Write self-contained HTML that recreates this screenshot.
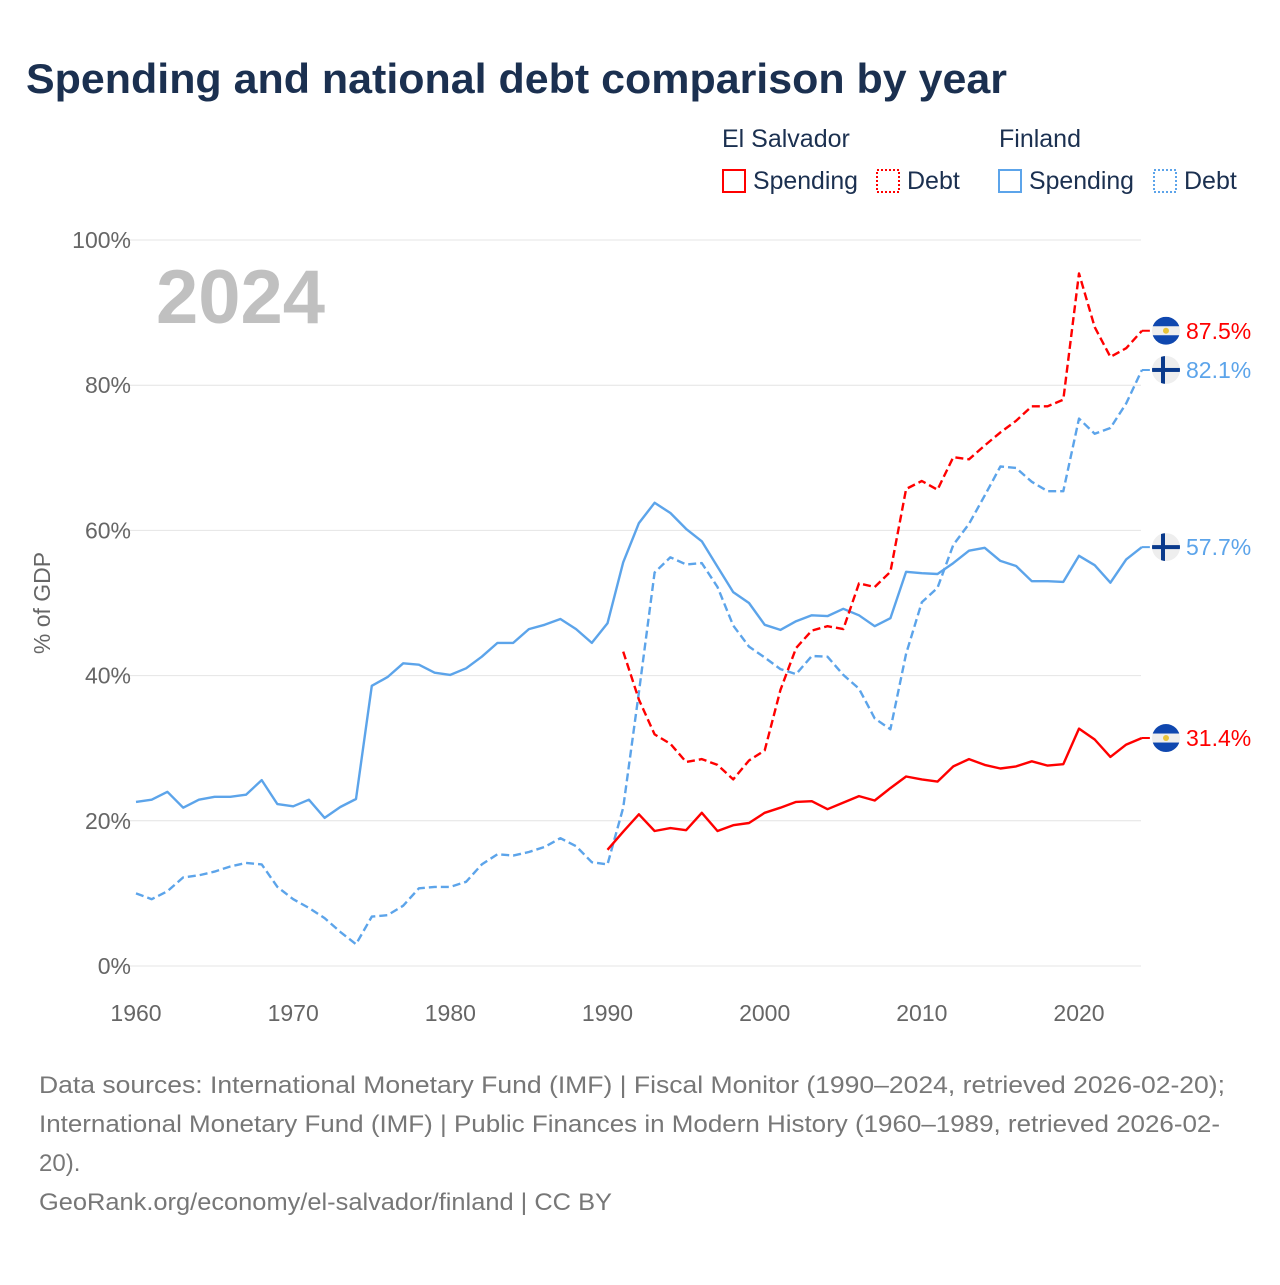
<!DOCTYPE html>
<html><head><meta charset="utf-8"><style>
body{margin:0;width:1280px;height:1280px;background:#fff;font-family:"Liberation Sans",sans-serif;overflow:hidden}
</style></head><body>
<svg id="c" width="1280" height="1280" xmlns="http://www.w3.org/2000/svg">
<text x="26" y="93" font-size="42" font-weight="bold" fill="#1b3050" textLength="981" lengthAdjust="spacingAndGlyphs">Spending and national debt comparison by year</text>
<g font-size="25" fill="#1b3050">
<text x="722" y="147">El Salvador</text>
<text x="999" y="147">Finland</text>
<g><rect x="723" y="170" width="22" height="22" fill="none" stroke="#ff0000" stroke-width="2"/><text x="753" y="189" textLength="105" lengthAdjust="spacingAndGlyphs">Spending</text></g>
<g><rect x="877" y="170" width="22" height="22" fill="none" stroke="#ff0000" stroke-width="2" stroke-dasharray="2,2"/><text x="907" y="189">Debt</text></g>
<g><rect x="999" y="170" width="22" height="22" fill="none" stroke="#5ca4ea" stroke-width="2"/><text x="1029" y="189" textLength="105" lengthAdjust="spacingAndGlyphs">Spending</text></g>
<g><rect x="1154" y="170" width="22" height="22" fill="none" stroke="#5ca4ea" stroke-width="2" stroke-dasharray="2,2"/><text x="1184" y="189">Debt</text></g>
</g>
<text x="156" y="323" font-size="76" font-weight="bold" fill="#c0c0c0">2024</text>
<text transform="translate(50,603) rotate(-90)" text-anchor="middle" font-size="23" fill="#666">% of GDP</text>
<g id="plot"></g>
<g font-size="24" fill="#777">
<text x="39" y="1093" textLength="1186" lengthAdjust="spacingAndGlyphs">Data sources: International Monetary Fund (IMF) | Fiscal Monitor (1990–2024, retrieved 2026-02-20);</text>
<text x="39" y="1132" textLength="1181" lengthAdjust="spacingAndGlyphs">International Monetary Fund (IMF) | Public Finances in Modern History (1960–1989, retrieved 2026-02-</text>
<text x="39" y="1171">20).</text>
<text x="39" y="1210" textLength="573" lengthAdjust="spacingAndGlyphs">GeoRank.org/economy/el-salvador/finland | CC BY</text>
</g>
</svg>
<script>
const yTicks=[0,20,40,60,80,100];
const xTicks=[1960,1970,1980,1990,2000,2010,2020];
const fiSpending=[22.6,22.9,24,21.8,22.9,23.3,23.3,23.6,25.6,22.3,22.0,22.9,20.4,21.9,23,38.6,39.8,41.7,41.5,40.4,40.1,41,42.6,44.5,44.5,46.4,47,47.8,46.4,44.5,47.2,55.6,61,63.8,62.4,60.2,58.5,55,51.5,50,47,46.3,47.5,48.3,48.2,49.2,48.3,46.8,47.9,54.3,54.1,54,55.5,57.2,57.6,55.8,55.1,53,53,52.9,56.5,55.2,52.8,56,57.7];
const fiDebt=[10,9.2,10.3,12.2,12.5,13,13.7,14.2,14,10.9,9.2,8,6.6,4.7,3,6.8,7,8.3,10.7,10.9,10.9,11.6,14,15.4,15.2,15.7,16.4,17.6,16.5,14.3,14,21.8,37.7,54.2,56.3,55.3,55.5,52.2,46.9,44,42.5,40.9,40.2,42.7,42.6,40.1,38.2,34.1,32.6,43,50.1,52.1,58,60.9,64.8,68.8,68.6,66.7,65.4,65.4,75.4,73.3,74.1,77.5,82.1];
const esSpending=[16,18.5,20.9,18.6,19,18.7,21.1,18.6,19.4,19.7,21.1,21.8,22.6,22.7,21.6,22.5,23.4,22.8,24.5,26.1,25.7,25.4,27.5,28.5,27.7,27.2,27.5,28.2,27.6,27.8,32.7,31.2,28.8,30.5,31.4];
const esDebt=[null,43.3,36.7,31.9,30.6,28.1,28.5,27.7,25.7,28.3,29.7,38,43.8,46.2,46.8,46.4,52.7,52.2,54.3,65.7,66.8,65.6,70.1,69.8,71.7,73.5,75.1,77.1,77.1,78,95.4,88,83.9,85.1,87.5];
const NS='http://www.w3.org/2000/svg';
const X=y=>136+(y-1960)*(1079-136)/60;
const Y=v=>966-v*7.26;
const plot=document.getElementById('plot');
function mk(t,a,p){const e=document.createElementNS(NS,t);for(const k in a)e.setAttribute(k,a[k]);(p||plot).appendChild(e);return e;}
yTicks.forEach(v=>{
  const l=mk('line',{x1:110,x2:1141,y1:Y(v),y2:Y(v),stroke:'#e4e4e4','stroke-width':1});
  
  
  const t=mk('text',{x:131,y:Y(v)+8,'text-anchor':'end','font-size':23,fill:'#666'});
  t.textContent=v+'%';
  
  
});
xTicks.forEach(v=>{
  const t=mk('text',{x:X(v),y:1021,'text-anchor':'middle','font-size':23,fill:'#666'});
  t.textContent=v;
  
  
});
function line(arr,start,color,dash,name){
  let d='';arr.forEach((v,i)=>{if(v==null)return;d+=(d?'L':'M')+X(start+i).toFixed(1)+','+Y(v).toFixed(1);});
  const p=mk('path',{d:d,fill:'none',stroke:color,'stroke-width':2.4,'stroke-dasharray':dash,'stroke-linejoin':'round'});
  
  
}
line(fiSpending,1960,'#5ca4ea','','finland-spending-line');
line(fiDebt,1960,'#5ca4ea','8,4','finland-debt-line');
line(esSpending,1990,'#ff0000','','el-salvador-spending-line');
line(esDebt,1990,'#ff0000','8,4','el-salvador-debt-line');
function flag(country,v,color,name){
  const cy=Y(v),cx=1166;
  const g=mk('g',{});
  
  
  mk('line',{x1:X(2024),x2:cx,y1:cy,y2:cy,stroke:color,'stroke-width':2,'stroke-dasharray':'8,4'},g);
  const cid='cl'+name;
  const cp=mk('clipPath',{id:cid},g);mk('circle',{cx:cx,cy:cy,r:14},cp);
  const f=mk('g',{'clip-path':'url(#'+cid+')'},g);
  mk('rect',{x:cx-14,y:cy-14,width:28,height:28,fill:'#eeeeee'},f);
  if(country==='es'){
    mk('rect',{x:cx-14,y:cy-14,width:28,height:9.5,fill:'#0f47af'},f);
    mk('rect',{x:cx-14,y:cy+4.5,width:28,height:9.5,fill:'#0f47af'},f);
    mk('circle',{cx:cx,cy:cy,r:3,fill:'#e8c33a'},f);
  } else {
    mk('rect',{x:cx-14,y:cy-2,width:28,height:4,fill:'#0a3a8c'},f);
    mk('rect',{x:cx-5,y:cy-14,width:4,height:28,fill:'#0a3a8c'},f);
  }
  const t=mk('text',{x:1186,y:cy+8,'font-size':23,fill:color},g);
  t.textContent=v.toFixed(1)+'%';
}
flag('es',esDebt[esDebt.length-1],'#ff0000','es-debt');
flag('fi',fiDebt[fiDebt.length-1],'#5ca4ea','fi-debt');
flag('fi',fiSpending[fiSpending.length-1],'#5ca4ea','fi-spending');
flag('es',esSpending[esSpending.length-1],'#ff0000','es-spending');
</script>
</body></html>
